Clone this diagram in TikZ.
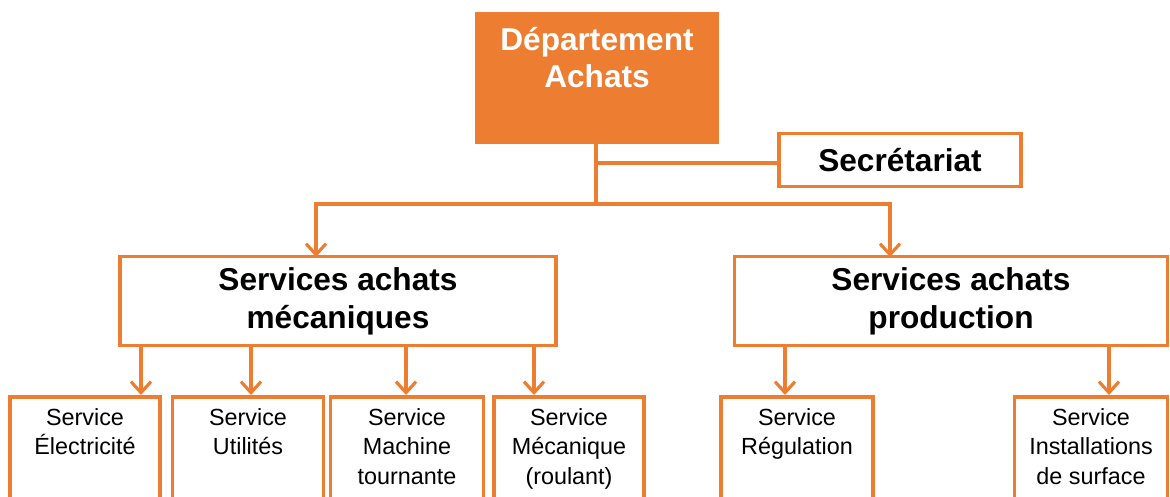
\documentclass[tikz,border=0pt]{standalone}
\usepackage{fontspec}
\setmainfont{Liberation Sans}
\usetikzlibrary{positioning}
\usetikzlibrary{arrows.meta}
\definecolor{achat}{RGB}{237,125,49}

\begin{document}
\begin{tikzpicture}[x=0.02cm,y=-0.02cm,
    box/.style={draw=achat,line width=2pt,fill=white},
    unit/.style={box,anchor=north,minimum height=2.6cm},
    bigtext/.style={font=\bfseries\fontsize{18}{21.5}\selectfont,align=center},
    smalltext/.style={font=\fontsize{13.3}{16.8}\selectfont,align=center,inner sep=0pt},
    link/.style={draw=achat,line width=1.8pt},
    arr/.style={link,-{Straight Barb[length=2.2mm,width=4mm]}}]
  \useasboundingbox (0,0) rectangle (1170,497);
  \clip (0,0) rectangle (1170,497);

  % head of the department
  \node [fill=achat,minimum width=4.9cm,minimum height=2.64cm] (dept) at (597,78) {};
  \node [bigtext,text=white,inner sep=0pt,below=0.3cm of dept.north] (deptname) {Département\\Achats};
  \node [box,bigtext,minimum width=4.84cm,minimum height=1.06cm] (sec) at (900,160) {Secrétariat};

  % the two purchasing services
  \node [box,bigtext,minimum width=8.72cm,minimum height=1.78cm] (meca) at (338,301) {Services achats\\mécaniques};
  \node [box,bigtext,minimum width=8.66cm,minimum height=1.78cm] (prod) at (951,301) {Services achats\\production};

  % units (the boxes run past the lower edge)
  \node [unit,minimum width=3cm]    (elec)  at (85,395)   {};
  \node [unit,minimum width=3.02cm] (util)  at (248,395)  {};
  \node [unit,minimum width=3.06cm] (mach)  at (407,395)  {};
  \node [unit,minimum width=3cm]    (mecq)  at (569,395)  {};
  \node [unit,minimum width=3.04cm] (regul) at (797,395)  {};
  \node [unit,minimum width=3.06cm] (inst)  at (1091,395) {};

  \node [smalltext,below=0.26cm of elec.north]  (elec-t)  {Service\\Électricité};
  \node [smalltext,below=0.26cm of util.north]  (util-t)  {Service\\Utilités};
  \node [smalltext,below=0.26cm of mach.north]  (mach-t)  {Service\\Machine\\tournante};
  \node [smalltext,below=0.26cm of mecq.north]  (mecq-t)  {Service\\Mécanique\\(roulant)};
  \node [smalltext,below=0.26cm of regul.north] (regul-t) {Service\\Régulation};
  \node [smalltext,below=0.26cm of inst.north]  (inst-t)  {Service\\Installations\\de surface};

  % where the arrows come in
  \coordinate (split)    at (596,204);
  \coordinate (sec-in)   at (779,163);
  \coordinate (meca-in)  at (316,257);
  \coordinate (prod-in)  at (890,257);
  \coordinate (elec-in)  at (141,395);
  \coordinate (util-in)  at (251,395);
  \coordinate (mach-in)  at (406,395);
  \coordinate (mecq-in)  at (534,395);
  \coordinate (regul-in) at (785,395);
  \coordinate (inst-in)  at (1109,395);

  \draw [link] (dept.south -| split) -- (split);
  \draw [link] (split |- sec-in) -- (sec-in);
  \draw [arr] (split) -| (meca-in);
  \draw [arr] (split) -| (prod-in);

  \draw [arr] (meca.south -| elec-in) -- (elec-in);
  \draw [arr] (meca.south -| util-in) -- (util-in);
  \draw [arr] (meca.south -| mach-in) -- (mach-in);
  \draw [arr] (meca.south -| mecq-in) -- (mecq-in);
  \draw [arr] (prod.south -| regul-in) -- (regul-in);
  \draw [arr] (prod.south -| inst-in) -- (inst-in);
\end{tikzpicture}
\end{document}
